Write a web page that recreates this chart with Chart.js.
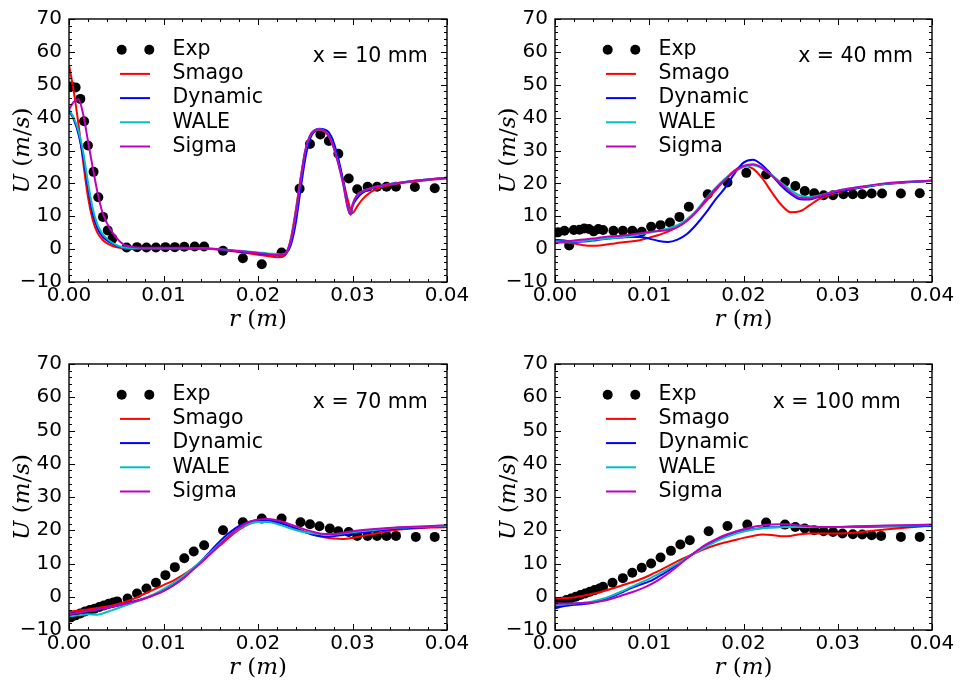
<!DOCTYPE html>
<html>
<head>
<meta charset="utf-8">
<script src="https://cdn.jsdelivr.net/npm/chart.js@4.4.1/dist/chart.umd.min.js"></script>
<style>
html, body { margin: 0; padding: 0; background: #fff; }
body { width: 962px; height: 686px; position: relative; overflow: hidden; }
canvas { position: absolute; }
</style>
</head>
<body>
<canvas id="c10" width="481" height="343" style="left:0;top:0"></canvas>
<canvas id="c40" width="481" height="343" style="left:481px;top:0"></canvas>
<canvas id="c70" width="481" height="343" style="left:0;top:343px"></canvas>
<canvas id="c100" width="481" height="343" style="left:481px;top:343px"></canvas>
<script>
// ---- x = 10 mm ----
const exp10R = [0.0002, 0.0007, 0.0012, 0.0016, 0.0020, 0.0026, 0.0031, 0.0036, 0.0041, 0.0046, 0.0061, 0.0072, 0.0082, 0.0092, 0.0102, 0.0112, 0.0122, 0.0133, 0.0143, 0.0163, 0.0184, 0.0204, 0.0225, 0.0244, 0.0255, 0.0266, 0.0275, 0.0285, 0.0296, 0.0305, 0.0316, 0.0326, 0.0336, 0.0346, 0.0366, 0.0387];
const exp10U = [49.5, 49.2, 45.7, 38.9, 31.5, 23.5, 15.8, 9.8, 5.7, 3.2, 0.5, 0.6, 0.5, 0.5, 0.6, 0.6, 0.7, 0.8, 0.8, -0.5, -2.8, -4.6, -1.0, 18.4, 32.0, 34.9, 32.9, 29.0, 21.5, 18.2, 19.0, 19.0, 19.0, 19.0, 18.9, 18.5];
const sim10R = [0, 0.0005, 0.001, 0.0015, 0.002, 0.0025, 0.003, 0.0035, 0.004, 0.0045, 0.005, 0.0055, 0.006, 0.007, 0.008, 0.010, 0.012, 0.014, 0.016, 0.018, 0.020, 0.021, 0.022, 0.0225, 0.023, 0.0235, 0.024, 0.0245, 0.025, 0.0255, 0.026, 0.0265, 0.027, 0.0275, 0.028, 0.0285, 0.029, 0.0295, 0.0298, 0.030, 0.0305, 0.031, 0.032, 0.033, 0.034, 0.036, 0.038, 0.040];
const smago10 = [56, 48, 38, 26.5, 16, 9, 5, 3, 1.8, 1.1, 0.6, 0.3, 0.1, 0.1, 0.1, 0.1, 0.1, 0.1, -0.2, -0.9, -1.7, -2.1, -2.5, -2.4, -1.2, 3.5, 12, 21.5, 29.5, 34, 35.8, 36.2, 35.8, 34.3, 31, 26.5, 21, 15, 12, 11, 13, 15, 17.5, 18.8, 19.5, 20.4, 21, 21.5];
const dynamic10 = [42, 39.5, 35, 28, 19, 11, 6.5, 4, 2.7, 1.8, 1.1, 0.6, 0.3, 0.2, 0.2, 0.2, 0.2, 0.2, -0.1, -0.7, -1.3, -1.6, -1.9, -1.9, -1.3, 1.5, 8, 18, 27.5, 33.5, 36, 36.6, 36.4, 35.5, 32.5, 27.5, 21, 13, 10.5, 13, 15.5, 17, 18.4, 19.2, 19.8, 20.6, 21.2, 21.7];
const wale10 = [42.5, 40, 36, 29.5, 20.5, 12.5, 7.5, 4.8, 3.2, 2.1, 1.3, 0.7, 0.4, 0.3, 0.3, 0.3, 0.3, 0.3, 0, -0.5, -1.0, -1.3, -1.5, -1.6, -1, 3, 11, 21, 30, 34.5, 36.2, 36.5, 36, 34.5, 31, 26, 20, 12.5, 10.5, 13.5, 16.5, 17.5, 18.6, 19.3, 19.8, 20.6, 21.2, 21.7];
const sigma10 = [42.5, 44.8, 45.6, 41, 33, 25, 17.5, 11.5, 8, 5.5, 3.5, 2.0, 1.1, 0.6, 0.4, 0.4, 0.4, 0.3, 0, -0.6, -1.2, -1.5, -1.8, -1.8, -1, 3, 11, 21, 30, 34.5, 36.2, 36.5, 36, 34.5, 31, 26, 20, 12.5, 10.5, 13.5, 16.5, 17.5, 18.6, 19.3, 19.8, 20.6, 21.2, 21.7];

// ---- x = 40 mm ----
const exp40R = [0.0003, 0.0010, 0.0015, 0.0020, 0.0026, 0.0031, 0.0036, 0.0041, 0.0046, 0.0051, 0.0062, 0.0072, 0.0082, 0.0092, 0.0102, 0.0112, 0.0122, 0.0132, 0.0142, 0.0162, 0.0183, 0.0203, 0.0224, 0.0244, 0.0255, 0.0265, 0.0275, 0.0285, 0.0295, 0.0306, 0.0316, 0.0326, 0.0336, 0.0347, 0.0367, 0.0387];
const exp40U = [5.1, 5.6, 1.1, 5.8, 5.9, 6.3, 6.1, 5.4, 6.1, 5.8, 5.6, 5.6, 5.6, 5.3, 6.8, 7.3, 8.1, 9.8, 12.9, 16.7, 20.3, 23.2, 22.7, 20.5, 19.2, 17.7, 17.0, 16.4, 16.4, 16.7, 16.7, 16.7, 16.9, 16.9, 16.9, 17.0];
const sim40R = [0, 0.001, 0.002, 0.003, 0.004, 0.005, 0.006, 0.007, 0.008, 0.009, 0.010, 0.011, 0.012, 0.013, 0.014, 0.015, 0.016, 0.017, 0.018, 0.019, 0.020, 0.021, 0.022, 0.023, 0.024, 0.025, 0.026, 0.027, 0.028, 0.030, 0.032, 0.035, 0.040];
const smago40 = [2.0, 2.0, 1.7, 1.2, 1.0, 1.2, 1.6, 2.0, 2.3, 2.7, 3.5, 4.3, 5.3, 6.8, 9.0, 11.5, 14.5, 17.8, 21, 23.8, 25.3, 24.5, 21.5, 17.3, 13.5, 11.2, 11.5, 13.3, 15.2, 17.3, 18.5, 19.8, 20.8];
const dynamic40 = [2.8, 2.6, 2.2, 2.3, 2.6, 3.0, 3.3, 3.5, 3.7, 3.7, 3.2, 2.5, 2.2, 2.9, 4.6, 7.5, 11.0, 15.0, 18.5, 22.8, 26.3, 27.2, 25.5, 22.5, 19.3, 16.8, 15.2, 15.1, 15.9, 17.5, 18.5, 19.8, 20.8];
const wale40 = [2.3, 2.3, 2.3, 2.5, 2.8, 3.1, 3.3, 3.6, 4.0, 4.5, 5.0, 5.6, 6.3, 7.3, 9.1, 11.8, 15.3, 18.5, 21.3, 23.5, 25.0, 25.5, 24.5, 22.5, 20.2, 18.0, 16.3, 15.8, 16.3, 17.8, 18.7, 19.9, 20.9];
const sigma40 = [1.8, 2.3, 2.6, 2.9, 3.2, 3.6, 3.9, 4.1, 4.4, 4.8, 5.2, 5.5, 5.8, 6.7, 8.6, 11.3, 15.0, 18.2, 21.0, 23.5, 25.3, 25.8, 24.7, 22.3, 19.8, 17.3, 15.6, 15.4, 16.1, 17.8, 18.8, 20.0, 20.9];

// ---- x = 70 mm ----
const exp70R = [0.0002, 0.0007, 0.0012, 0.0017, 0.0022, 0.0027, 0.0032, 0.0037, 0.0042, 0.0047, 0.0051, 0.0062, 0.0072, 0.0082, 0.0092, 0.0102, 0.0112, 0.0122, 0.0132, 0.0143, 0.0163, 0.0184, 0.0204, 0.0225, 0.0245, 0.0255, 0.0265, 0.0276, 0.0285, 0.0296, 0.0305, 0.0316, 0.0326, 0.0336, 0.0346, 0.0367, 0.0387];
const exp70U = [-6.2, -5.6, -5.0, -4.4, -4.0, -3.6, -3.1, -2.6, -2.1, -1.7, -1.4, -0.5, 1.0, 2.5, 4.2, 6.5, 8.9, 11.6, 13.6, 15.5, 20.0, 22.4, 23.5, 23.5, 22.4, 21.8, 21.2, 20.5, 19.7, 19.5, 18.3, 18.3, 18.3, 18.3, 18.3, 18.0, 18.0];
const sim70R = [0, 0.001, 0.002, 0.003, 0.004, 0.005, 0.006, 0.007, 0.008, 0.009, 0.010, 0.011, 0.012, 0.013, 0.014, 0.015, 0.016, 0.017, 0.018, 0.019, 0.020, 0.021, 0.022, 0.023, 0.024, 0.025, 0.026, 0.027, 0.028, 0.029, 0.030, 0.032, 0.035, 0.040];
const smago70 = [-4.4, -4.2, -3.8, -3.4, -2.9, -2.3, -1.5, -0.4, 0.9, 2.2, 3.5, 4.8, 6.4, 8.3, 10.5, 13.0, 15.5, 18.0, 20.2, 21.8, 22.6, 22.8, 22.4, 21.6, 20.6, 19.6, 18.6, 17.9, 17.5, 17.4, 17.7, 18.8, 20.2, 21.0];
const dynamic70 = [-5.2, -4.8, -4.4, -3.9, -3.4, -2.8, -2.1, -1.3, -0.4, 0.6, 1.8, 3.4, 5.5, 8.0, 10.8, 13.8, 16.8, 19.3, 21.3, 22.5, 23.1, 23.0, 22.5, 21.6, 20.5, 19.4, 18.5, 18.1, 18.2, 18.6, 19.0, 19.6, 20.5, 21.2];
const wale70 = [-6.0, -5.6, -5.3, -5.4, -4.6, -3.6, -2.6, -1.6, -0.5, 0.8, 2.3, 4.0, 6.0, 8.3, 10.8, 13.4, 16.0, 18.5, 20.5, 21.9, 22.5, 22.5, 21.9, 21.0, 20.1, 19.4, 19.0, 18.8, 18.8, 19.1, 19.4, 20.0, 20.8, 21.3];
const sigma70 = [-5.3, -4.8, -4.3, -3.8, -3.3, -2.7, -2.1, -1.4, -0.6, 0.5, 1.7, 3.3, 5.3, 7.8, 10.3, 13.0, 15.8, 18.5, 20.8, 22.4, 23.2, 23.4, 23.0, 22.2, 21.2, 20.2, 19.4, 18.9, 18.9, 19.2, 19.7, 20.3, 20.9, 21.5];

// ---- x = 100 mm ----
const exp100R = [0.0002, 0.0007, 0.0012, 0.0017, 0.0022, 0.0027, 0.0032, 0.0037, 0.0042, 0.0047, 0.0051, 0.0061, 0.0072, 0.0082, 0.0092, 0.0102, 0.0112, 0.0123, 0.0133, 0.0143, 0.0163, 0.0183, 0.0204, 0.0224, 0.0244, 0.0255, 0.0265, 0.0275, 0.0285, 0.0295, 0.0305, 0.0316, 0.0326, 0.0336, 0.0346, 0.0367, 0.0387];
const exp100U = [-2.0, -1.5, -1.0, -0.5, 0.0, 0.5, 1.0, 1.5, 2.0, 2.5, 3.0, 4.2, 5.6, 7.2, 8.7, 10.0, 11.8, 13.8, 15.7, 17.0, 19.7, 21.3, 21.7, 22.3, 21.7, 21.0, 20.5, 20.0, 19.7, 19.5, 19.0, 18.8, 18.7, 18.5, 18.3, 18.0, 18.0];
const sim100R = [0, 0.001, 0.002, 0.003, 0.004, 0.005, 0.006, 0.007, 0.008, 0.009, 0.010, 0.011, 0.012, 0.013, 0.014, 0.015, 0.016, 0.017, 0.018, 0.019, 0.020, 0.021, 0.022, 0.023, 0.024, 0.025, 0.026, 0.027, 0.028, 0.030, 0.032, 0.035, 0.040];
const smago100 = [-0.5, -0.4, -0.2, 0.3, 0.9, 1.6, 2.4, 3.3, 4.2, 5.2, 6.4, 7.8, 9.2, 10.7, 12.0, 13.3, 14.5, 15.5, 16.3, 17.0, 17.7, 18.3, 18.7, 18.6, 18.2, 18.3, 18.8, 19.0, 19.0, 19.0, 19.3, 20.2, 21.5];
const dynamic100 = [-3.5, -2.8, -2.4, -2.2, -1.8, -1.0, 0.0, 1.2, 2.5, 3.6, 4.6, 6.1, 7.8, 9.7, 11.7, 13.6, 15.4, 16.9, 18.0, 19.0, 19.8, 20.3, 20.7, 20.9, 21.0, 21.0, 21.0, 21.0, 21.0, 21.0, 21.0, 21.1, 21.3];
const wale100 = [-2.6, -2.3, -2.0, -1.8, -1.4, -0.7, 0.3, 1.5, 2.8, 4.1, 5.4, 6.9, 8.4, 10.0, 11.7, 13.4, 15.0, 16.5, 17.8, 18.8, 19.6, 20.2, 20.6, 20.8, 20.9, 21.0, 21.0, 21.0, 21.0, 21.0, 21.1, 21.2, 21.5];
const sigma100 = [-2.0, -2.0, -2.0, -1.9, -1.7, -1.3, -0.6, 0.3, 1.2, 2.2, 3.5, 5.1, 7.0, 9.2, 11.5, 13.7, 15.7, 17.2, 18.5, 19.5, 20.3, 21.0, 21.4, 21.7, 21.8, 21.7, 21.4, 21.2, 21.0, 21.0, 21.2, 21.4, 21.7];

const COLORS = { smago: '#ff0000', dynamic: '#0000ff', wale: '#00bfbf', sigma: '#bf00bf' };
const X_TICKS = { min: 0, max: 0.04, step: 0.01, minor: 0.002 };
const Y_TICKS = { min: -10, max: 70, step: 10, minor: 2 };

Chart.defaults.font.family = '"DejaVu Sans", sans-serif';
Chart.defaults.color = '#000';

const pts = (rs, us) => rs.map((r, i) => ({ x: r, y: us[i] }));

const simSet = (label, rs, us, color, order) => ({
    label, data: pts(rs, us), showLine: true,
    borderColor: color, backgroundColor: color, borderWidth: 2,
    pointRadius: 0, cubicInterpolationMode: 'monotone', order
});

const line = (ctx, x1, y1, x2, y2) => {
    ctx.beginPath(); ctx.moveTo(x1, y1); ctx.lineTo(x2, y2); ctx.stroke();
};

// mixed italic / upright math-like axis title
const drawRuns = (ctx, runs, cx, cy, angle) => {
    const fonts = { i: 'italic 23px "DejaVu Serif"', n: '23px "DejaVu Serif"' };
    ctx.save();
    ctx.translate(cx, cy); ctx.rotate(angle);
    ctx.textBaseline = 'middle'; ctx.textAlign = 'left'; ctx.fillStyle = '#000';
    let total = 0;
    const widths = runs.map(([t, s]) => { ctx.font = fonts[s]; const w = ctx.measureText(t).width; total += w; return w; });
    let xx = -total / 2;
    runs.forEach(([t, s], k) => { ctx.font = fonts[s]; ctx.fillText(t, xx, 0); xx += widths[k]; });
    ctx.restore();
};

const decor = {
    id: 'decor',
    afterDraw(chart) {
        const { ctx, chartArea: a, scales: { x, y } } = chart;
        const opts = chart.options.plugins.decor;
        ctx.save();
        ctx.strokeStyle = '#000';
        ctx.lineWidth = 1;
        // inward ticks on all four sides
        for (let v = Y_TICKS.min; v <= Y_TICKS.max + 1e-9; v += Y_TICKS.minor) {
            const py = Math.round(y.getPixelForValue(v)) + 0.5;
            const len = Math.abs(v % Y_TICKS.step) < 1e-9 ? 6 : 3;
            line(ctx, a.left, py, a.left + len, py);
            line(ctx, a.right, py, a.right - len, py);
        }
        const nx = Math.round((X_TICKS.max - X_TICKS.min) / X_TICKS.minor);
        for (let i = 0; i <= nx; i++) {
            const px = Math.round(x.getPixelForValue(X_TICKS.min + i * X_TICKS.minor)) + 0.5;
            const len = i % 5 === 0 ? 6 : 3;
            line(ctx, px, a.bottom, px, a.bottom - len);
            line(ctx, px, a.top, px, a.top + len);
        }
        ctx.lineWidth = 1.4;
        ctx.strokeRect(a.left, a.top, a.right - a.left, a.bottom - a.top);

        // legend
        ctx.font = '20.5px "DejaVu Sans"';
        ctx.textBaseline = 'middle'; ctx.textAlign = 'left'; ctx.fillStyle = '#000';
        chart.data.datasets.forEach((ds, i) => {
            const ly = a.top + 30.7 + i * 24.2;
            if (ds.showLine) {
                ctx.strokeStyle = ds.borderColor; ctx.lineWidth = 2;
                line(ctx, a.left + 51, ly, a.left + 81, ly);
            } else {
                ctx.fillStyle = '#000';
                [52.7, 80.3].forEach(dx => { ctx.beginPath(); ctx.arc(a.left + dx, ly, 5, 0, Math.PI * 2); ctx.fill(); });
            }
            ctx.fillStyle = '#000';
            ctx.fillText(ds.label, a.left + 103.5, ly);
        });

        // station label
        ctx.fillText(opts.label, x.getPixelForValue(opts.labelR), y.getPixelForValue(58.5));

        // axis titles
        drawRuns(ctx, [['r', 'i'], [' (', 'n'], ['m', 'i'], [')', 'n']], (a.left + a.right) / 2, a.bottom + 38.5, 0);
        drawRuns(ctx, [['U', 'i'], [' (', 'n'], ['m', 'i'], ['/', 'n'], ['s', 'i'], [')', 'n']], a.left - 46, (a.top + a.bottom) / 2, -Math.PI / 2);
        ctx.restore();
    }
};

const makePanel = (canvasId, area, exp, sim, label, labelR) => {
    const canvas = document.getElementById(canvasId);
    const W = canvas.width, H = canvas.height;
    return new Chart(canvas, {
        type: 'scatter',
        data: {
            datasets: [
                { label: 'Exp', data: pts(exp.r, exp.u), showLine: false, pointRadius: 5,
                  pointBackgroundColor: '#000', pointBorderWidth: 0, pointBorderColor: '#000', order: 5 },
                simSet('Smago', sim.r, sim.smago, COLORS.smago, 4),
                simSet('Dynamic', sim.r, sim.dynamic, COLORS.dynamic, 3),
                simSet('WALE', sim.r, sim.wale, COLORS.wale, 2),
                simSet('Sigma', sim.r, sim.sigma, COLORS.sigma, 1)
            ]
        },
        options: {
            responsive: false, animation: false, devicePixelRatio: 1,
            layout: { padding: { left: 0, top: area.top, right: W - area.right, bottom: 0 } },
            plugins: { legend: { display: false }, tooltip: { enabled: false }, decor: { label, labelR } },
            scales: {
                x: {
                    type: 'linear', min: X_TICKS.min, max: X_TICKS.max,
                    afterFit: s => { s.height = H - area.bottom; },
                    grid: { display: false, drawTicks: false }, border: { display: false },
                    ticks: { stepSize: X_TICKS.step, padding: 2, autoSkip: false, maxRotation: 0,
                             font: { size: 20 }, callback: v => v.toFixed(2) }
                },
                y: {
                    min: Y_TICKS.min, max: Y_TICKS.max,
                    afterFit: s => { s.width = area.left; },
                    grid: { display: false, drawTicks: false }, border: { display: false },
                    ticks: { stepSize: Y_TICKS.step, padding: 7, font: { size: 20 },
                             callback: v => String(v).replace('-', '\u2212') }
                }
            }
        },
        plugins: [decor]
    });
};

makePanel('c10', { left: 69, top: 16, right: 447, bottom: 282 },
    { r: exp10R, u: exp10U },
    { r: sim10R, smago: smago10, dynamic: dynamic10, wale: wale10, sigma: sigma10 }, 'x = 10 mm', 0.0258);
makePanel('c40', { left: 74, top: 16, right: 451, bottom: 282 },
    { r: exp40R, u: exp40U },
    { r: sim40R, smago: smago40, dynamic: dynamic40, wale: wale40, sigma: sigma40 }, 'x = 40 mm', 0.0258);
makePanel('c70', { left: 69, top: 21, right: 447, bottom: 287 },
    { r: exp70R, u: exp70U },
    { r: sim70R, smago: smago70, dynamic: dynamic70, wale: wale70, sigma: sigma70 }, 'x = 70 mm', 0.0258);
makePanel('c100', { left: 74, top: 21, right: 451, bottom: 287 },
    { r: exp100R, u: exp100U },
    { r: sim100R, smago: smago100, dynamic: dynamic100, wale: wale100, sigma: sigma100 }, 'x = 100 mm', 0.0231);
</script>
</body>
</html>
